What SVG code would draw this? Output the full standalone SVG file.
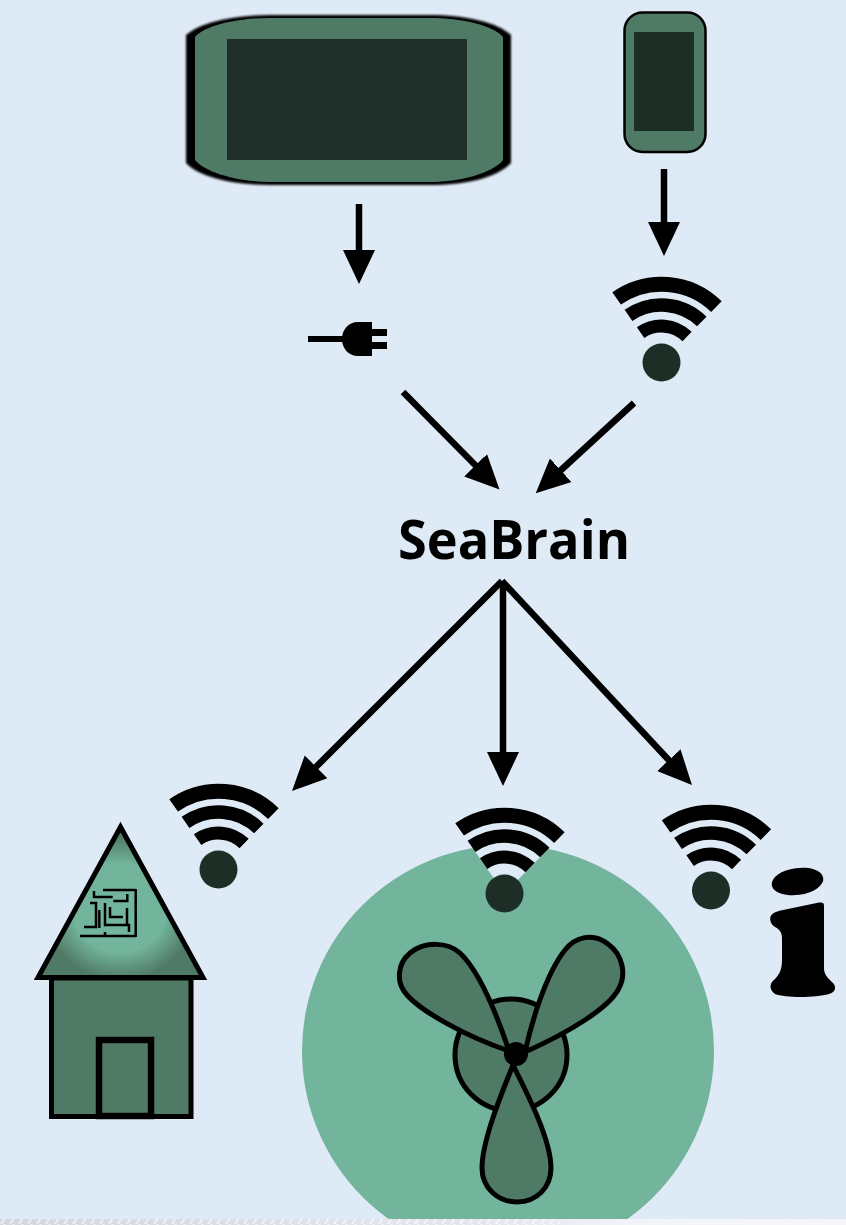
<svg xmlns="http://www.w3.org/2000/svg" width="846" height="1225" viewBox="0 0 846 1225">
<style>
.g{fill:#507A66}.d{fill:#1F2E28}.k{fill:#000}
.conn line{stroke:#000;stroke-width:6.500;fill:none}
.maze{fill:none;stroke:#000;stroke-width:2.500}
.out{stroke:#000;fill:#507A66}
.band{fill:none;stroke:#000}
.soft{filter:url(#soft)}
</style>
<defs>
<filter id="soft" x="-10%" y="-10%" width="120%" height="120%"><feGaussianBlur stdDeviation="0.5"/></filter>
<filter id="soft2" x="-5%" y="-5%" width="110%" height="110%"><feGaussianBlur stdDeviation="1.200"/></filter>
<marker id="ah" markerUnits="userSpaceOnUse" markerWidth="36" markerHeight="34" viewBox="0 0 36 34" refX="4" refY="17" orient="auto"><path d="M0,1 L34,17 L0,33Z" fill="#000"/></marker>
<radialGradient id="roof" gradientUnits="userSpaceOnUse" cx="0" cy="0" r="1" gradientTransform="translate(120 908) scale(76 72)"><stop offset="0" stop-color="#72B49C"/><stop offset=".62" stop-color="#72B49C"/><stop offset="1" stop-color="#507A66"/></radialGradient>
<linearGradient id="strip" x1="0" x2="1" y1="0" y2="0"><stop offset="0" stop-color="#D3D7DF"/><stop offset=".6" stop-color="#E6E8EE"/><stop offset=".75" stop-color="#F3F4F8"/><stop offset="1" stop-color="#F6F6FA"/></linearGradient>
<pattern id="hatch" patternUnits="userSpaceOnUse" width="9" height="6"><path d="M1,6 L5,0" stroke="#fff" stroke-opacity=".6" stroke-width="2"/></pattern>
<g id="wifi">
<path d="M0,0 L-44.900,-64.100 A78.300,78.300 0 0 1 54.900,-55.900 Z" fill="#DEEAF6"/>
<path class="band" stroke-width="15" d="M-44.900,-64.100 A78.300,78.300 0 0 1 54.900,-55.900"/>
<path class="band" stroke-width="13.500" d="M-33,-47.100 A57.500,57.500 0 0 1 40.300,-41"/>
<path class="band" stroke-width="13" d="M-20.900,-29.900 A36.500,36.500 0 0 1 25.600,-26"/>
<circle r="19" class="d"/>
</g>
</defs>
<rect width="846" height="1225" fill="#DEEAF6"/>
<g id="fan-disc"><circle cx="508" cy="1051" r="206" fill="#72B49C"/></g>
<rect y="1219" width="846" height="6" fill="url(#strip)"/>
<rect y="1219" width="560" height="6" fill="url(#hatch)"/>
<g id="tablet">
<path class="k" filter="url(#soft2)" d="M186,35 C200,22 235,15 270,15 L430,15 C465,15 497,22 511,35 L511,163 C497,178 465,185 430,185 L270,185 C235,185 200,178 186,163Z"/>
<path class="g" filter="url(#soft)" d="M195,37 C205,25 240,18 270,18 L430,18 C460,18 493,25 503,37 L503,160 C493,173 460,182 430,182 L270,182 C240,182 205,173 195,160Z"/>
<rect class="d" x="227" y="39" width="240" height="121"/>
</g>
<g id="phone" class="soft">
<rect class="out" stroke-width="2.500" x="624.500" y="12.500" width="81" height="139.500" rx="18"/>
<rect class="d" x="634" y="32" width="60" height="99"/>
</g>
<g id="plug" class="soft">
<rect class="k" x="308" y="336" width="36" height="6"/>
<path class="k" d="M372,322 L372,356 L358,356 C348,356 342,348 342,339 C342,330 348,322 358,322Z"/>
<rect class="k" x="372" y="329" width="15" height="7"/>
<rect class="k" x="372" y="342" width="15" height="7"/>
</g>
<use id="wifi-top" class="soft" href="#wifi" x="661.500" y="362.500"/>
<g id="seabrain" class="soft"><text x="398" y="559" font-family="'Open Sans',sans-serif" font-weight="700" font-size="54" textLength="232" lengthAdjust="spacingAndGlyphs" fill="#000">SeaBrain</text></g>
<g id="house" class="soft">
<path d="M120.500,827 L203,977.500 L38,977.500Z" fill="url(#roof)" stroke="#000" stroke-width="5" stroke-linejoin="miter"/>
<rect class="out" stroke-width="5" x="51.500" y="978" width="139.500" height="138.500"/>
<rect class="out" stroke-width="6.500" x="99" y="1040" width="52" height="76"/>
<path class="maze" d="M135.700,889V937M103,890H135.700M80,936H135.700M105,932V936M94,891V897H112.700M127.300,894V901H113.300M90,903H96V927H84M99.300,910V928M105,903V925H129V932M110,907V917H123M127,908V925"/>
</g>
<use id="wifi-left" class="soft" href="#wifi" x="218.500" y="869.500"/>
<g id="fan" class="soft">
<circle class="out" stroke-width="5" cx="511" cy="1055" r="56"/>
<path class="out" stroke-width="5" stroke-linejoin="round" d="M509,1051 C497,1015 480,972 460,953 C448,942 425,941 410,953 C398,963 395,982 407,995 C420,1010 462,1035 509,1051Z"/>
<path class="out" stroke-width="5" stroke-linejoin="round" d="M525,1052 C531,1025 545,975 565,950 C575,937 593,932 608,944 C623,955 627,975 618,990 C608,1008 570,1032 525,1052Z"/>
<path class="out" stroke-width="5" stroke-linejoin="round" d="M513,1065 C503,1090 482,1140 482,1168 C482,1188 498,1202 517,1202 C537,1202 551,1187 551,1168 C551,1140 528,1095 513,1065Z"/>
<circle class="k" cx="516" cy="1054" r="12"/>
</g>
<use id="wifi-mid" class="soft" href="#wifi" x="504.500" y="893.500"/>
<use id="wifi-right" class="soft" href="#wifi" x="711" y="890.500"/>
<g id="info" class="soft">
<ellipse class="k" cx="797.500" cy="881.500" rx="26" ry="13.500" transform="rotate(-8 797.500 881.500)"/>
<path class="k" d="M770.500,921 C769,915 773,912 783,910 L819,902.500 C823,902 824,903 824,906 L824,968 C824,975 828,978 833,983 C837,988 835,992 829,994 C815,998 785,998 775,994 C769,990 769,983 775,979 C780,974 782,968 782,960 L782,938 C782,932 779,929 775,927 C772,925 771,923 770.500,921Z"/>
</g>
<g id="connectors" class="conn soft">
<line x1="359" y1="204" x2="359" y2="254" marker-end="url(#ah)"/>
<line x1="664" y1="169" x2="664" y2="226" marker-end="url(#ah)"/>
<line x1="403" y1="392" x2="478.400" y2="468.200" marker-end="url(#ah)"/>
<line x1="634" y1="403" x2="557.800" y2="473" marker-end="url(#ah)"/>
<line x1="502" y1="581" x2="313.200" y2="769.700" marker-end="url(#ah)"/>
<line x1="503" y1="581" x2="503" y2="756" marker-end="url(#ah)"/>
<line x1="502" y1="581" x2="671.500" y2="763" marker-end="url(#ah)"/>
</g>
</svg>
